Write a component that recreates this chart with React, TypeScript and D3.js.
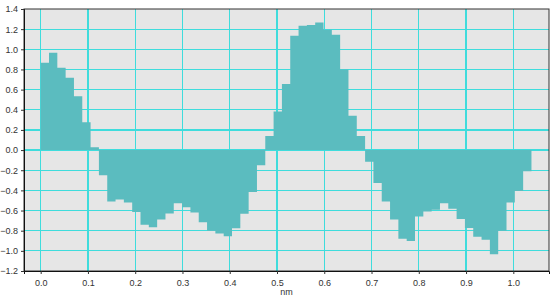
import { useEffect, useRef } from "react";
import * as d3 from "d3";

// bar heights, one every 0.0176 nm starting at 0
const heights = [
  0.867, 0.967, 0.817, 0.717, 0.533, 0.277, 0.027, -0.25, -0.51, -0.49,
  -0.52, -0.615, -0.74, -0.767, -0.69, -0.63, -0.527, -0.567, -0.62, -0.717,
  -0.8, -0.827, -0.855, -0.775, -0.633, -0.417, -0.15, 0.14, 0.383, 0.655,
  1.135, 1.233, 1.24, 1.267, 1.195, 1.145, 0.8, 0.34, 0.14, -0.117,
  -0.327, -0.51, -0.69, -0.88, -0.903, -0.66, -0.61, -0.593, -0.527, -0.583,
  -0.685, -0.773, -0.86, -0.89, -1.033, -0.8, -0.52, -0.405, -0.21,
];
const step = 0.0176;
const xTicks = [0, 0.1, 0.2, 0.3, 0.4, 0.5, 0.6, 0.7, 0.8, 0.9, 1.0];
const yTicks = [-1.2, -1.0, -0.8, -0.6, -0.4, -0.2, 0, 0.2, 0.4, 0.6, 0.8, 1.0, 1.2, 1.4];
const xLabel = "nm";

const App = () => {
  const ref = useRef<SVGSVGElement>(null);

  useEffect(() => {
    const w = 554;
    const h = 299;
    const m = { left: 24, right: 549, top: 9, bottom: 271 };
    const svg = d3.select(ref.current).attr("width", w).attr("height", h);
    svg.selectAll("*").remove();

    const x = d3.scaleLinear().domain([-0.0353, 1.0755]).range([m.left, m.right]);
    const y = d3.scaleLinear().domain([-1.2, 1.4]).range([m.bottom, m.top]);

    svg
      .append("rect")
      .attr("x", m.left)
      .attr("y", m.top)
      .attr("width", m.right - m.left)
      .attr("height", m.bottom - m.top)
      .attr("fill", "#e6e6e6");

    // grid
    const grid = svg
      .append("g")
      .attr("stroke", "#3fdcdc")
      .attr("stroke-width", 1.2)
      .attr("shape-rendering", "crispEdges");
    grid
      .selectAll(".hg")
      .data(yTicks.slice(1, -1))
      .join("line")
      .attr("x1", m.left)
      .attr("x2", m.right)
      .attr("y1", (d) => y(d))
      .attr("y2", (d) => y(d));
    grid
      .selectAll(".vg")
      .data(xTicks)
      .join("line")
      .attr("x1", (d) => x(d))
      .attr("x2", (d) => x(d))
      .attr("y1", m.top)
      .attr("y2", m.bottom);

    // bars as one stepped area so no seams show between them
    const pts: [number, number][] = heights.map((d, i) => [i * step, d]);
    pts.push([heights.length * step, heights[heights.length - 1]]);
    const area = d3
      .area<[number, number]>()
      .x((d) => x(d[0]))
      .y0(y(0))
      .y1((d) => y(d[1]))
      .curve(d3.curveStepAfter);
    svg.append("path").attr("d", area(pts)).attr("fill", "#5bbcbf");

    // frame
    svg
      .append("rect")
      .attr("x", m.left)
      .attr("y", m.top)
      .attr("width", m.right - m.left)
      .attr("height", m.bottom - m.top)
      .attr("fill", "none")
      .attr("stroke", "#333")
      .attr("stroke-width", 1);

    const yAxis = d3
      .axisLeft(y)
      .tickValues(yTicks)
      .tickSize(3)
      .tickFormat((d) => d3.format(".1f")(d as number));
    const ya = svg.append("g").attr("transform", `translate(${m.left},0)`).call(yAxis);
    ya.select(".domain").attr("stroke", "#111");

    const xAxis = d3
      .axisBottom(x)
      .tickValues(xTicks)
      .tickSize(3)
      .tickFormat((d) => d3.format(".1f")(d as number));
    const xa = svg.append("g").attr("transform", `translate(0,${m.bottom})`).call(xAxis);
    xa.select(".domain").attr("stroke", "#111");
    xa.selectAll(".tick text").attr("dy", "0.95em");

    svg
      .selectAll(".tick text")
      .attr("font-family", "Liberation Sans, Arial, sans-serif")
      .attr("font-size", 9)
      .attr("fill", "#333");
    svg.selectAll(".tick line").attr("stroke", "#333");

    svg
      .append("text")
      .attr("x", (m.left + m.right) / 2)
      .attr("y", 295)
      .attr("text-anchor", "middle")
      .attr("font-family", "Liberation Sans, Arial, sans-serif")
      .attr("font-size", 9)
      .attr("fill", "#333")
      .text(xLabel);
  }, []);

  return (
    <div style={{ position: "absolute", left: 0, top: 0, background: "#fff" }}>
      <svg ref={ref}></svg>
    </div>
  );
};

export default App;
